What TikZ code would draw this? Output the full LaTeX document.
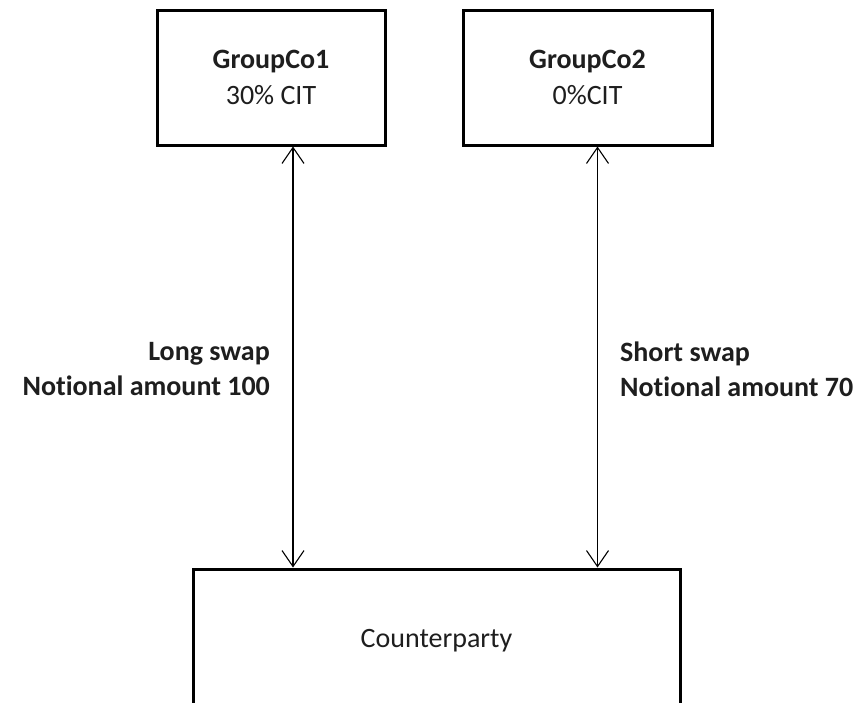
\documentclass[tikz,border=0pt]{standalone}
\usepackage{fontspec}
\setmainfont{Carlito}[Ligatures=NoCommon]
\usetikzlibrary{arrows.meta}
\definecolor{ink}{HTML}{1E1E1E}
\tikzset{
  entity/.style={draw=black, line width=3pt, fill=white, inner sep=0pt,
    align=center, text=ink, font=\fontsize{28}{36}\selectfont},
  swaplabel/.style={inner sep=0pt, text=ink, font=\bfseries\fontsize{28}{35}\selectfont},
  swap/.style={line width=1.1pt, {Straight Barb[length=16pt,width=22pt,line width=1.1pt]}-{Straight Barb[length=16pt,width=22pt,line width=1.1pt]}}
}
\begin{document}
\begin{tikzpicture}[x=1pt,y=-1pt]
  \useasboundingbox (0,0) rectangle (866,702);
  \clip (0,0) rectangle (866,702);
  \fill[white] (0,0) rectangle (866,702);

  % entities
  \node[entity, minimum width=228pt, minimum height=135pt] (g1) at (271,77.5)
    {\textbf{GroupCo1}\\30\% CIT};
  \node[entity, minimum width=249pt, minimum height=135pt] (g2) at (587.5,77.5)
    {\textbf{GroupCo2}\\0\%CIT};
  \node[entity, minimum width=487pt, minimum height=143pt] (cp) at (436.5,640.5)
    {Counterparty};

  % swap legs
  \coordinate (a1) at (293,0);
  \coordinate (a2) at (597.5,0);
  \draw[swap] (g1.south -| a1) -- (cp.north -| a1);
  \draw[swap] (g2.south -| a2) -- (cp.north -| a2);

  % swap descriptions
  \node[swaplabel, align=right, anchor=east] (l1) at (270,369) {Long swap\\Notional amount 100};
  \node[swaplabel, align=left, anchor=west] (l2) at (620,369) {Short swap\\Notional amount 70};
\end{tikzpicture}
\end{document}
